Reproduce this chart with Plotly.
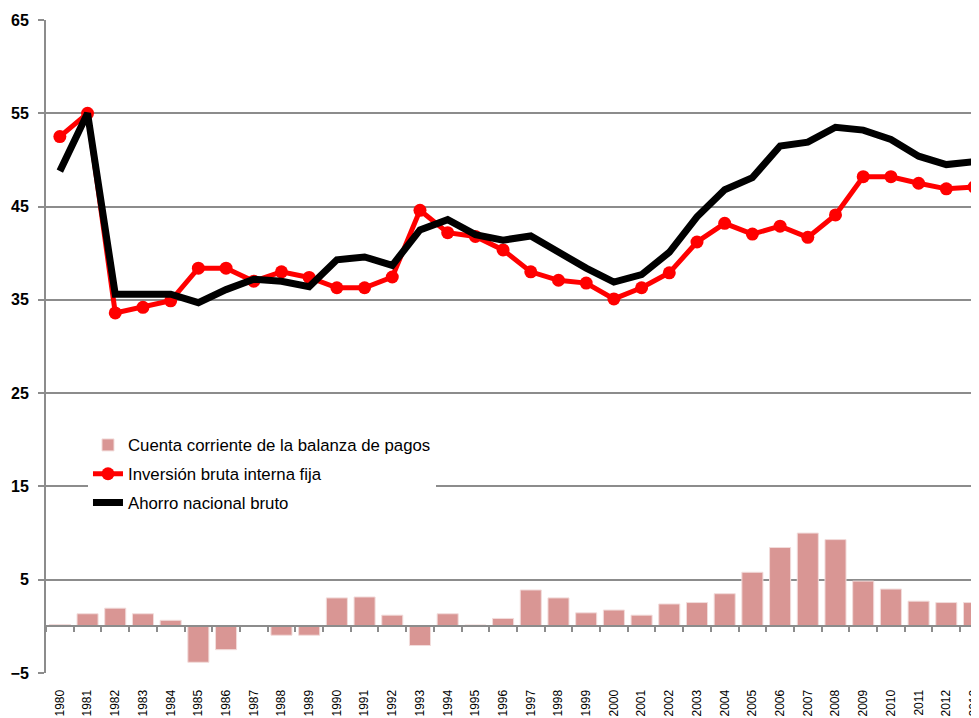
import plotly.graph_objects as go

years = [str(y) for y in range(1980, 2014)]

cuenta_corriente = [0.2, 1.35, 1.95, 1.35, 0.65, -3.85, -2.5, 0.0, -0.95, -0.95,
                    3.05, 3.15, 1.2, -2.05, 1.35, 0.15, 0.85, 3.9, 3.05, 1.45,
                    1.75, 1.2, 2.4, 2.55, 3.5, 5.8, 8.45, 10.0, 9.3, 4.85,
                    4.0, 2.7, 2.55, 2.55]

inversion = [52.5, 55.0, 33.6, 34.2, 34.9, 38.4, 38.4, 37.0, 38.0, 37.4,
             36.3, 36.3, 37.45, 44.6, 42.2, 41.8, 40.35, 38.0, 37.1, 36.8,
             35.1, 36.3, 37.9, 41.2, 43.2, 42.05, 42.9, 41.7, 44.1, 48.2,
             48.2, 47.5, 46.9, 47.1]

ahorro = [48.8, 55.0, 35.6, 35.6, 35.6, 34.7, 36.1, 37.2, 37.0, 36.4,
          39.3, 39.6, 38.7, 42.5, 43.6, 42.0, 41.4, 41.85, 40.1, 38.4,
          36.9, 37.7, 40.1, 43.9, 46.8, 48.1, 51.5, 51.9, 53.5, 53.2,
          52.2, 50.4, 49.5, 49.8]

y_ticks = [-5, 5, 15, 25, 35, 45, 55, 65]

GRID = "#8c8c8c"

fig = go.Figure()

fig.add_trace(go.Bar(
    x=years, y=cuenta_corriente,
    name="Cuenta corriente de la balanza de pagos",
    marker=dict(color="#d99694", line=dict(color="#f2dcdb", width=1)),
    legendgroup="a",
))
fig.add_trace(go.Scatter(
    x=years, y=inversion, mode="lines+markers",
    name="Inversión bruta interna fija",
    line=dict(color="#ff0000", width=5),
    marker=dict(color="#ff0000", size=13),
    legendgroup="b",
))
fig.add_trace(go.Scatter(
    x=years, y=ahorro, mode="lines",
    name="Ahorro nacional bruto",
    line=dict(color="#000000", width=7),
    legendgroup="c",
))
# invisible trace that carries the zero-line axis with category-boundary ticks
fig.add_trace(go.Scatter(
    x=years, y=cuenta_corriente, mode="markers", xaxis="x2",
    marker=dict(opacity=0), showlegend=False, hoverinfo="skip",
))

xr = [-0.5, 33.18]

fig.update_layout(
    width=971, height=710,
    margin=dict(l=38, r=0, t=12, b=45, autoexpand=False),
    paper_bgcolor="white", plot_bgcolor="white",
    bargap=0.24,
    font=dict(family="Liberation Sans, Arial, sans-serif", color="black"),
    showlegend=True,
    legend=dict(
        x=0.045, y=0.376, xanchor="left", yanchor="top",
        bgcolor="white", borderwidth=0,
        font=dict(size=16.8, color="black"),
        itemwidth=30,
        traceorder="grouped", tracegroupgap=4,
    ),
    xaxis=dict(
        type="category", range=xr, automargin=False,
        showgrid=False, showline=False, zeroline=False,
        ticks="outside", ticklen=11, tickcolor="rgba(0,0,0,0)",
        tickangle=-90, tickfont=dict(size=12, color="black"),
    ),
    xaxis2=dict(
        type="category", matches="x", range=xr, overlaying="x",
        anchor="free", position=5 / 70, automargin=False,
        showline=True, linecolor=GRID, linewidth=2,
        ticks="outside", ticklen=5, tickwidth=2, tickcolor=GRID,
        tickson="boundaries", showticklabels=False, showgrid=False,
    ),
    yaxis=dict(
        range=[-5, 65], tickvals=y_ticks, automargin=False,
        showgrid=True, gridcolor=GRID, gridwidth=2,
        zeroline=False,
        showline=True, linecolor=GRID, linewidth=2,
        ticks="outside", ticklen=6, tickwidth=2, tickcolor=GRID,
        ticklabelstandoff=6,
        tickfont=dict(size=16, color="black", weight="bold",
                      family="Liberation Sans, Arial, sans-serif"),
    ),
)

fig.write_html("out.html")
